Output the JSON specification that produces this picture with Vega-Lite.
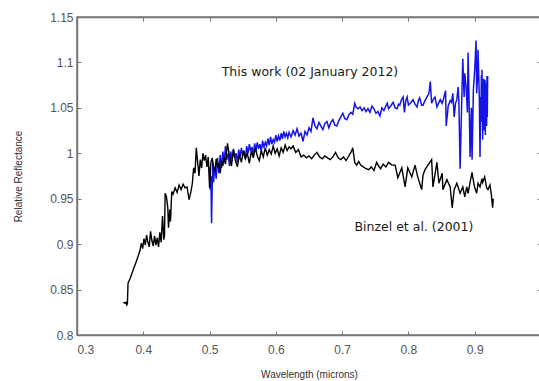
{
  "$schema": "https://vega.github.io/schema/vega-lite/v6.json",
  "width": 464,
  "height": 318,
  "autosize": {"type": "none"},
  "padding": {"left": 77, "top": 17, "right": 0, "bottom": 46},
  "background": "white",
  "config": {
    "view": {"stroke": "#777", "strokeWidth": 1.5},
    "axis": {"grid": false, "domainColor": "#777", "domainWidth": 1.5, "tickColor": "#777", "labelFont": "Liberation Sans", "labelFontSize": 12, "labelColor": "#555", "titleFont": "Liberation Sans", "titleFontSize": 10, "titleFontWeight": "normal", "titleColor": "#333"}
  },
  "resolve": {"axis": {"x": "independent", "y": "independent"}},
  "datasets": {
    "binzel": [
      {"w":0.370,"r":0.836},{"w":0.372,"r":0.835},{"w":0.374,"r":0.836},{"w":0.375,"r":0.833},{"w":0.376,"r":0.834},{"w":0.377,"r":0.857},{"w":0.380,"r":0.862},{"w":0.385,"r":0.872},{"w":0.390,"r":0.882},{"w":0.395,"r":0.893},{"w":0.397,"r":0.901},{"w":0.399,"r":0.895},{"w":0.401,"r":0.906},{"w":0.403,"r":0.899},{"w":0.405,"r":0.910},{"w":0.407,"r":0.902},{"w":0.409,"r":0.897},{"w":0.411,"r":0.914},{"w":0.413,"r":0.904},{"w":0.415,"r":0.898},{"w":0.417,"r":0.909},{"w":0.419,"r":0.899},{"w":0.421,"r":0.907},{"w":0.423,"r":0.897},{"w":0.425,"r":0.913},{"w":0.427,"r":0.902},{"w":0.429,"r":0.931},{"w":0.431,"r":0.905},{"w":0.432,"r":0.910},{"w":0.433,"r":0.956},{"w":0.435,"r":0.952},{"w":0.437,"r":0.940},{"w":0.438,"r":0.918},{"w":0.440,"r":0.938},{"w":0.441,"r":0.925},{"w":0.443,"r":0.958},{"w":0.445,"r":0.955},{"w":0.448,"r":0.962},{"w":0.451,"r":0.957},{"w":0.454,"r":0.965},{"w":0.457,"r":0.960},{"w":0.460,"r":0.966},{"w":0.463,"r":0.962},{"w":0.466,"r":0.963},{"w":0.469,"r":0.949},{"w":0.472,"r":0.958},{"w":0.474,"r":0.967},{"w":0.476,"r":0.984},{"w":0.478,"r":0.978},{"w":0.480,"r":1.006},{"w":0.482,"r":0.990},{"w":0.484,"r":0.975},{"w":0.486,"r":0.993},{"w":0.488,"r":0.984},{"w":0.490,"r":1.000},{"w":0.492,"r":0.992},{"w":0.494,"r":0.998},{"w":0.496,"r":0.985},{"w":0.498,"r":0.996},{"w":0.500,"r":0.962},{"w":0.502,"r":0.990},{"w":0.504,"r":0.995},{"w":0.506,"r":0.985},{"w":0.508,"r":0.980},{"w":0.510,"r":0.994},{"w":0.512,"r":0.984},{"w":0.514,"r":0.989},{"w":0.516,"r":0.978},{"w":0.518,"r":0.992},{"w":0.520,"r":0.986},{"w":0.522,"r":0.996},{"w":0.524,"r":0.988},{"w":0.527,"r":1.011},{"w":0.530,"r":0.997},{"w":0.533,"r":0.986},{"w":0.536,"r":1.004},{"w":0.539,"r":0.992},{"w":0.542,"r":0.985},{"w":0.545,"r":0.998},{"w":0.548,"r":0.990},{"w":0.551,"r":1.003},{"w":0.554,"r":0.994},{"w":0.557,"r":1.000},{"w":0.560,"r":0.989},{"w":0.563,"r":1.002},{"w":0.566,"r":0.995},{"w":0.569,"r":1.006},{"w":0.572,"r":0.997},{"w":0.575,"r":0.992},{"w":0.578,"r":1.003},{"w":0.581,"r":0.996},{"w":0.584,"r":1.006},{"w":0.587,"r":0.998},{"w":0.590,"r":1.004},{"w":0.593,"r":0.999},{"w":0.596,"r":1.008},{"w":0.599,"r":1.000},{"w":0.602,"r":1.005},{"w":0.605,"r":0.997},{"w":0.608,"r":1.006},{"w":0.611,"r":1.001},{"w":0.614,"r":1.009},{"w":0.617,"r":1.003},{"w":0.620,"r":1.007},{"w":0.623,"r":1.005},{"w":0.626,"r":1.008},{"w":0.630,"r":1.001},{"w":0.634,"r":1.004},{"w":0.638,"r":0.996},{"w":0.642,"r":0.998},{"w":0.646,"r":0.995},{"w":0.650,"r":0.997},{"w":0.654,"r":0.994},{"w":0.658,"r":0.998},{"w":0.662,"r":1.001},{"w":0.666,"r":0.996},{"w":0.670,"r":0.994},{"w":0.674,"r":0.997},{"w":0.678,"r":0.995},{"w":0.682,"r":0.993},{"w":0.686,"r":0.996},{"w":0.690,"r":1.001},{"w":0.694,"r":0.995},{"w":0.698,"r":0.993},{"w":0.702,"r":0.996},{"w":0.706,"r":0.992},{"w":0.710,"r":0.997},{"w":0.714,"r":1.002},{"w":0.716,"r":1.006},{"w":0.719,"r":0.990},{"w":0.722,"r":0.987},{"w":0.725,"r":0.991},{"w":0.728,"r":0.987},{"w":0.732,"r":0.985},{"w":0.736,"r":0.983},{"w":0.740,"r":0.982},{"w":0.744,"r":0.985},{"w":0.748,"r":0.981},{"w":0.752,"r":0.990},{"w":0.755,"r":0.986},{"w":0.758,"r":0.983},{"w":0.762,"r":0.988},{"w":0.766,"r":0.985},{"w":0.770,"r":0.990},{"w":0.775,"r":0.987},{"w":0.780,"r":0.987},{"w":0.784,"r":0.973},{"w":0.790,"r":0.984},{"w":0.795,"r":0.963},{"w":0.799,"r":0.984},{"w":0.805,"r":0.974},{"w":0.810,"r":0.987},{"w":0.814,"r":0.974},{"w":0.820,"r":0.960},{"w":0.822,"r":0.976},{"w":0.825,"r":0.982},{"w":0.835,"r":0.993},{"w":0.837,"r":0.963},{"w":0.843,"r":0.990},{"w":0.846,"r":0.967},{"w":0.851,"r":0.978},{"w":0.852,"r":0.960},{"w":0.858,"r":0.971},{"w":0.863,"r":0.963},{"w":0.866,"r":0.940},{"w":0.869,"r":0.960},{"w":0.873,"r":0.967},{"w":0.878,"r":0.956},{"w":0.882,"r":0.963},{"w":0.885,"r":0.952},{"w":0.888,"r":0.963},{"w":0.890,"r":0.956},{"w":0.893,"r":0.968},{"w":0.896,"r":0.979},{"w":0.897,"r":0.974},{"w":0.900,"r":0.962},{"w":0.903,"r":0.956},{"w":0.905,"r":0.967},{"w":0.908,"r":0.963},{"w":0.911,"r":0.972},{"w":0.912,"r":0.968},{"w":0.915,"r":0.974},{"w":0.918,"r":0.962},{"w":0.920,"r":0.960},{"w":0.923,"r":0.965},{"w":0.925,"r":0.955},{"w":0.927,"r":0.940},{"w":0.928,"r":0.950}
    ],
    "thiswork": [
      {"w":0.500,"r":0.985},{"w":0.501,"r":0.960},{"w":0.502,"r":0.975},{"w":0.503,"r":0.923},{"w":0.504,"r":0.965},{"w":0.505,"r":0.990},{"w":0.506,"r":0.968},{"w":0.508,"r":0.985},{"w":0.510,"r":0.972},{"w":0.512,"r":0.995},{"w":0.514,"r":0.978},{"w":0.516,"r":0.998},{"w":0.518,"r":0.984},{"w":0.520,"r":1.002},{"w":0.522,"r":0.990},{"w":0.524,"r":1.008},{"w":0.526,"r":0.993},{"w":0.528,"r":1.000},{"w":0.530,"r":0.986},{"w":0.532,"r":1.002},{"w":0.534,"r":0.992},{"w":0.536,"r":1.005},{"w":0.538,"r":0.995},{"w":0.540,"r":1.000},{"w":0.542,"r":0.990},{"w":0.544,"r":1.004},{"w":0.546,"r":0.996},{"w":0.548,"r":1.006},{"w":0.550,"r":0.997},{"w":0.552,"r":1.003},{"w":0.554,"r":0.994},{"w":0.556,"r":1.008},{"w":0.558,"r":1.000},{"w":0.560,"r":1.010},{"w":0.562,"r":1.002},{"w":0.564,"r":1.007},{"w":0.566,"r":0.998},{"w":0.568,"r":1.011},{"w":0.570,"r":1.003},{"w":0.572,"r":1.012},{"w":0.574,"r":1.005},{"w":0.576,"r":1.010},{"w":0.578,"r":1.002},{"w":0.580,"r":1.014},{"w":0.582,"r":1.006},{"w":0.584,"r":1.012},{"w":0.586,"r":1.008},{"w":0.588,"r":1.016},{"w":0.590,"r":1.009},{"w":0.592,"r":1.018},{"w":0.594,"r":1.010},{"w":0.596,"r":1.015},{"w":0.598,"r":1.012},{"w":0.600,"r":1.020},{"w":0.602,"r":1.013},{"w":0.604,"r":1.019},{"w":0.606,"r":1.014},{"w":0.608,"r":1.022},{"w":0.610,"r":1.016},{"w":0.612,"r":1.024},{"w":0.614,"r":1.018},{"w":0.616,"r":1.022},{"w":0.618,"r":1.017},{"w":0.620,"r":1.023},{"w":0.623,"r":1.018},{"w":0.626,"r":1.025},{"w":0.629,"r":1.020},{"w":0.632,"r":1.027},{"w":0.635,"r":1.019},{"w":0.638,"r":1.022},{"w":0.641,"r":1.013},{"w":0.644,"r":1.024},{"w":0.647,"r":1.020},{"w":0.650,"r":1.028},{"w":0.653,"r":1.024},{"w":0.656,"r":1.039},{"w":0.659,"r":1.030},{"w":0.662,"r":1.027},{"w":0.665,"r":1.034},{"w":0.668,"r":1.030},{"w":0.671,"r":1.026},{"w":0.674,"r":1.033},{"w":0.677,"r":1.035},{"w":0.680,"r":1.028},{"w":0.683,"r":1.034},{"w":0.686,"r":1.037},{"w":0.689,"r":1.031},{"w":0.692,"r":1.030},{"w":0.695,"r":1.036},{"w":0.698,"r":1.040},{"w":0.701,"r":1.044},{"w":0.704,"r":1.038},{"w":0.707,"r":1.037},{"w":0.710,"r":1.042},{"w":0.713,"r":1.045},{"w":0.716,"r":1.043},{"w":0.719,"r":1.055},{"w":0.721,"r":1.051},{"w":0.724,"r":1.049},{"w":0.727,"r":1.051},{"w":0.730,"r":1.047},{"w":0.733,"r":1.050},{"w":0.736,"r":1.046},{"w":0.739,"r":1.049},{"w":0.742,"r":1.045},{"w":0.745,"r":1.052},{"w":0.748,"r":1.049},{"w":0.751,"r":1.044},{"w":0.754,"r":1.046},{"w":0.757,"r":1.041},{"w":0.760,"r":1.050},{"w":0.763,"r":1.047},{"w":0.766,"r":1.052},{"w":0.768,"r":1.055},{"w":0.770,"r":1.049},{"w":0.772,"r":1.051},{"w":0.775,"r":1.054},{"w":0.777,"r":1.056},{"w":0.780,"r":1.050},{"w":0.783,"r":1.049},{"w":0.785,"r":1.054},{"w":0.787,"r":1.053},{"w":0.789,"r":1.058},{"w":0.792,"r":1.062},{"w":0.794,"r":1.045},{"w":0.796,"r":1.058},{"w":0.798,"r":1.062},{"w":0.800,"r":1.053},{"w":0.803,"r":1.055},{"w":0.807,"r":1.059},{"w":0.810,"r":1.054},{"w":0.813,"r":1.051},{"w":0.815,"r":1.058},{"w":0.817,"r":1.061},{"w":0.820,"r":1.053},{"w":0.822,"r":1.053},{"w":0.825,"r":1.058},{"w":0.828,"r":1.062},{"w":0.831,"r":1.066},{"w":0.833,"r":1.079},{"w":0.835,"r":1.055},{"w":0.838,"r":1.060},{"w":0.840,"r":1.062},{"w":0.843,"r":1.051},{"w":0.846,"r":1.056},{"w":0.848,"r":1.059},{"w":0.851,"r":1.055},{"w":0.853,"r":1.060},{"w":0.856,"r":1.069},{"w":0.857,"r":1.030},{"w":0.860,"r":1.052},{"w":0.863,"r":1.058},{"w":0.865,"r":1.056},{"w":0.867,"r":1.066},{"w":0.869,"r":1.040},{"w":0.871,"r":1.055},{"w":0.873,"r":1.059},{"w":0.875,"r":1.073},{"w":0.876,"r":1.060},{"w":0.878,"r":0.983},{"w":0.880,"r":1.045},{"w":0.882,"r":1.104},{"w":0.884,"r":1.062},{"w":0.885,"r":1.088},{"w":0.887,"r":1.073},{"w":0.889,"r":1.045},{"w":0.890,"r":1.111},{"w":0.892,"r":1.040},{"w":0.893,"r":0.996},{"w":0.895,"r":1.050},{"w":0.896,"r":0.993},{"w":0.898,"r":1.070},{"w":0.900,"r":1.092},{"w":0.902,"r":1.124},{"w":0.903,"r":1.066},{"w":0.904,"r":1.080},{"w":0.905,"r":1.114},{"w":0.906,"r":1.088},{"w":0.907,"r":1.060},{"w":0.908,"r":0.996},{"w":0.909,"r":1.062},{"w":0.9095,"r":1.040},{"w":0.910,"r":1.086},{"w":0.9105,"r":1.035},{"w":0.911,"r":1.092},{"w":0.9115,"r":1.045},{"w":0.912,"r":1.015},{"w":0.9125,"r":1.075},{"w":0.913,"r":1.040},{"w":0.9135,"r":1.082},{"w":0.914,"r":1.025},{"w":0.9145,"r":1.070},{"w":0.915,"r":1.038},{"w":0.9155,"r":1.081},{"w":0.916,"r":1.020},{"w":0.9165,"r":1.066},{"w":0.917,"r":1.040},{"w":0.9175,"r":1.077},{"w":0.918,"r":1.030},{"w":0.9185,"r":1.085},{"w":0.919,"r":1.040},{"w":0.9195,"r":1.085}
    ],
    "labels": [
      {"w":0.6514,"r":1.0895,"t":"This work (02 January 2012)"},
      {"w":0.8083,"r":0.9189,"t":"Binzel et al. (2001)"}
    ]
  },
  "layer": [
    {
      "data": {"name": "thiswork"},
      "mark": {"type": "line", "color": "#1414e6", "strokeWidth": 1.5, "clip": true},
      "encoding": {
        "x": {"field": "w", "type": "quantitative", "scale": {"domain": [0.3, 1.0], "nice": false, "zero": false},
          "axis": {"orient": "bottom", "values": [0.3,0.4,0.5,0.6,0.7,0.8,0.9], "format": "~g", "tickSize": -4, "labelPadding": 13, "title": "Wavelength (microns)", "titlePadding": 14}},
        "y": {"field": "r", "type": "quantitative", "scale": {"domain": [0.8, 1.15], "nice": false, "zero": false},
          "axis": {"orient": "left", "values": [0.8,0.85,0.9,0.95,1,1.05,1.1,1.15], "format": "~g", "tickSize": -4, "labelPadding": 8, "title": "Relative Reflectance", "titlePadding": 26}}
      }
    },
    {
      "data": {"name": "binzel"},
      "mark": {"type": "line", "color": "#000000", "strokeWidth": 1.4, "clip": true},
      "encoding": {
        "x": {"field": "w", "type": "quantitative", "axis": null},
        "y": {"field": "r", "type": "quantitative", "axis": null}
      }
    },
    {
      "data": {"name": "labels"},
      "mark": {"type": "text", "font": "DejaVu Sans", "fontSize": 12.5, "color": "#1a1a1a", "align": "center", "baseline": "middle"},
      "encoding": {
        "x": {"field": "w", "type": "quantitative", "axis": {"orient": "top", "values": [0.3,0.4,0.5,0.6,0.7,0.8,0.9], "labels": false, "tickSize": -4, "title": null}},
        "y": {"field": "r", "type": "quantitative", "axis": {"orient": "right", "values": [0.8,0.85,0.9,0.95,1,1.05,1.1,1.15], "labels": false, "tickSize": -4, "title": null}},
        "text": {"field": "t"}
      }
    }
  ]
}
